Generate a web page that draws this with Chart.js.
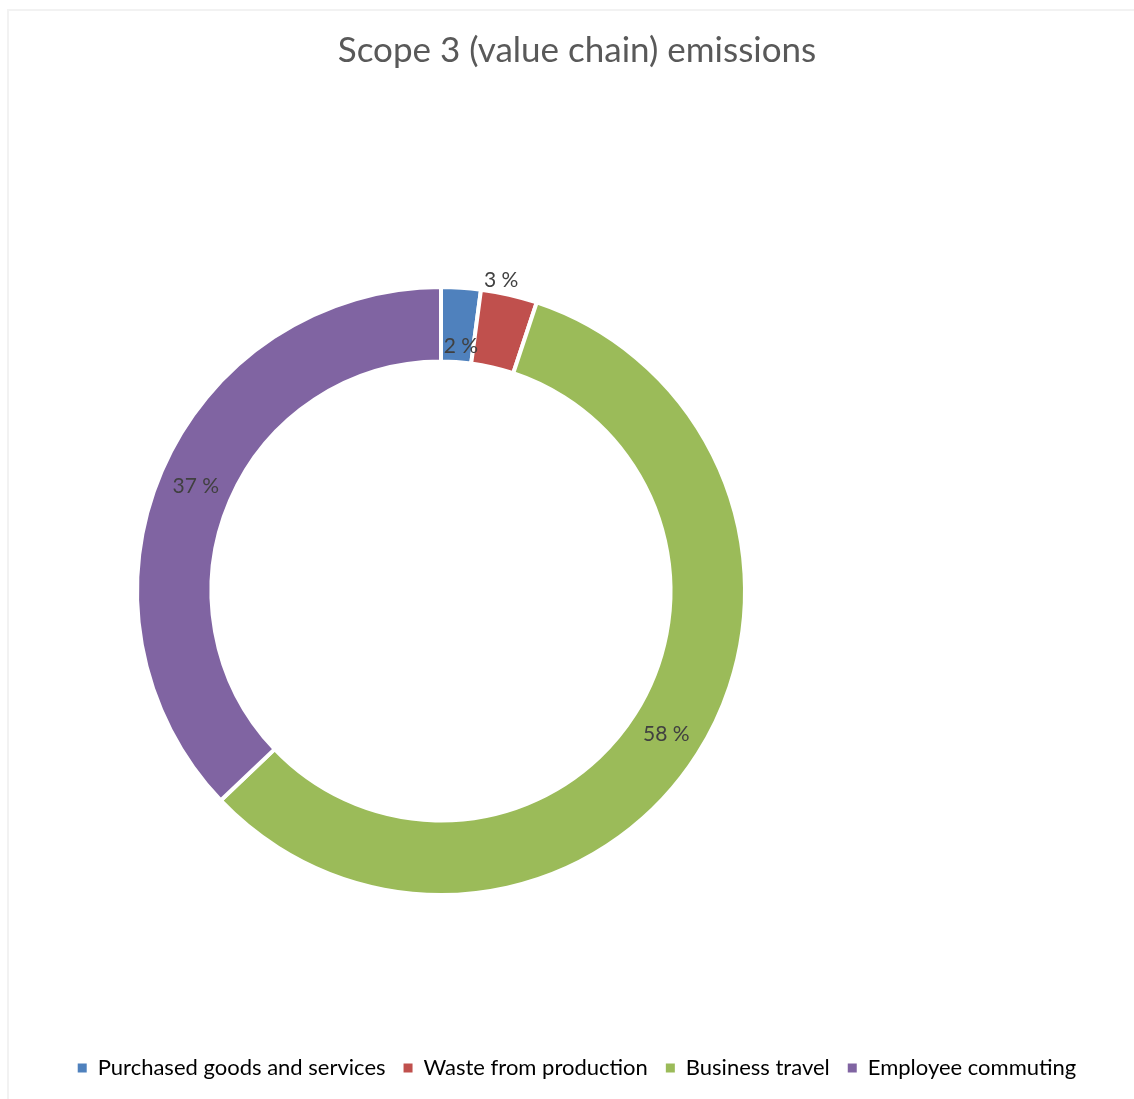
<!DOCTYPE html>
<html>
<head>
<meta charset="utf-8">
<script src="https://cdn.jsdelivr.net/npm/chart.js@4.4.1/dist/chart.umd.min.js"></script>
<style>
  html, body { margin: 0; padding: 0; background: #fff; }
  #wrap { position: relative; width: 1134px; height: 1099px; overflow: hidden; }
  #frame { position: absolute; left: 7px; top: 9px; width: 1140px; height: 1100px;
           border-left: 2px solid #f2f2f2; border-top: 2px solid #f2f2f2; box-sizing: border-box; }
  #chart { position: absolute; left: 0; top: 0; }
</style>
</head>
<body>
<div id="wrap">
  <div id="frame"></div>
  <canvas id="chart" width="1134" height="1099"></canvas>
</div>
<script>
// Dados do gráfico
const categorias = ['Purchased goods and services', 'Waste from production', 'Business travel', 'Employee commuting'];
const percentuais = [2.1, 3.0, 57.8, 37.1];
const rotulos = ['2 %', '3 %', '58 %', '37 %'];
const cores = ['#4F81BD', '#C0504D', '#9BBB59', '#8064A2'];

const FONTE = "Lato, 'Open Sans', sans-serif";
// Posição da rosca (fora do centro, como no original)
const CENTRO_X = 441;
const CENTRO_Y = 591;
const RAIO = 306;

const posicionaArea = {
    id: 'posicionaArea',
    afterLayout(chart) {
        const a = chart.chartArea;
        a.left = CENTRO_X - RAIO;
        a.right = CENTRO_X + RAIO;
        a.top = CENTRO_Y - RAIO;
        a.bottom = CENTRO_Y + RAIO;
        a.width = a.right - a.left;
        a.height = a.bottom - a.top;
    }
};

// Rótulos de percentual no meio do anel; o de 3 % fica por fora
const rotulosFatias = {
    id: 'rotulosFatias',
    afterDatasetsDraw(chart) {
        const ctx = chart.ctx;
        const meta = chart.getDatasetMeta(0);
        ctx.save();
        ctx.font = `21px ${FONTE}`;
        ctx.fillStyle = '#404040';
        ctx.textAlign = 'center';
        ctx.textBaseline = 'middle';
        meta.data.forEach((arc, i) => {
            const { x, y, startAngle, endAngle, innerRadius, outerRadius } = arc.getProps(['x', 'y', 'startAngle', 'endAngle', 'innerRadius', 'outerRadius'], true);
            const meio = (startAngle + endAngle) / 2;
            let r = (innerRadius + outerRadius) / 2;
            let ang = meio;
            if (i === 0) { r = innerRadius + 16; ang = meio + 0.015; }
            if (i === 1) { r = outerRadius + 13; ang = meio - 0.035; }
            ctx.fillText(rotulos[i], x + Math.cos(ang) * r, y + Math.sin(ang) * r);
        });
        ctx.restore();
    }
};

new Chart(document.getElementById('chart'), {
    type: 'doughnut',
    data: {
        labels: categorias,
        datasets: [{
            data: percentuais,
            backgroundColor: cores,
            borderColor: '#ffffff',
            borderWidth: 4,
            hoverOffset: 0
        }]
    },
    options: {
        responsive: false,
        animation: false,
        cutout: '75.5%',
        layout: { padding: { top: 0, bottom: 10, left: 20, right: 0 } },
        plugins: {
            title: {
                display: true,
                text: 'Scope 3 (value chain) emissions',
                color: '#595959',
                font: { family: FONTE, size: 35, weight: 'normal' },
                padding: { top: 30, bottom: 20 }
            },
            legend: {
                position: 'bottom',
                labels: {
                    color: '#595959',
                    font: { family: FONTE, size: 22 },
                    boxWidth: 9,
                    boxHeight: 9,
                    padding: 18,
                    generateLabels(chart) {
                        return categorias.map((c, i) => ({
                            text: c, fillStyle: cores[i], strokeStyle: cores[i], lineWidth: 0, index: i, hidden: false
                        }));
                    }
                }
            },
            tooltip: { enabled: false }
        }
    },
    plugins: [posicionaArea, rotulosFatias]
});
</script>
</body>
</html>
